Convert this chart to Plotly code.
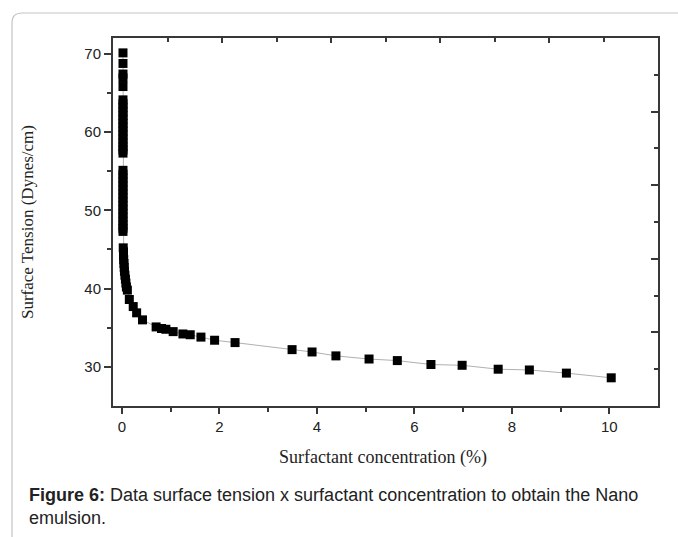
import plotly.graph_objects as go

# ---- data ----
conc = [0.02, 0.02, 0.02, 0.02, 0.02,
        0.02, 0.02, 0.02, 0.02, 0.02, 0.02, 0.02, 0.02, 0.02, 0.02, 0.02, 0.02, 0.02, 0.02, 0.02,
        0.02, 0.02, 0.02, 0.02, 0.02, 0.02, 0.02, 0.02, 0.02, 0.02, 0.02, 0.02, 0.02, 0.02, 0.02, 0.02, 0.02,
        0.025, 0.03, 0.03, 0.035, 0.04, 0.045, 0.05, 0.06, 0.07, 0.08, 0.09, 0.11,
        0.15, 0.23, 0.30, 0.42, 0.70, 0.81, 0.90, 1.05, 1.25, 1.40, 1.62, 1.90, 2.32,
        3.49, 3.90, 4.39, 5.07, 5.65, 6.34, 6.98, 7.72, 8.36, 9.12, 10.04]
tension = [70.1, 68.75, 67.4, 66.9, 65.8,
           64.1, 63.6, 63.1, 62.6, 62.1, 61.6, 61.1, 60.6, 60.1, 59.6, 59.1, 58.6, 58.1, 57.7, 57.3,
           55.1, 54.6, 54.1, 53.6, 53.1, 52.6, 52.1, 51.6, 51.1, 50.6, 50.1, 49.6, 49.1, 48.6, 48.1, 47.7, 47.3,
           45.2, 44.7, 44.2, 43.7, 43.2, 42.7, 42.2, 41.7, 41.2, 40.7, 40.2, 39.8,
           38.6, 37.7, 36.9, 36.0, 35.1, 34.9, 34.8, 34.5, 34.2, 34.1, 33.8, 33.4, 33.1,
           32.2, 31.9, 31.4, 31.0, 30.8, 30.3, 30.2, 29.7, 29.6, 29.2, 28.6]

x_ticks = [0, 2, 4, 6, 8, 10]
y_ticks = [30, 40, 50, 60, 70]

x_title = "Surfactant concentration (%)"
y_title = "Surface Tension (Dynes/cm)"
caption_bold = "Figure 6:"
caption_1 = " Data surface tension x surfactant concentration to obtain the Nano"
caption_2 = "emulsion."

# ---- geometry helpers (pixel -> paper) ----
W, H = 678, 537
L, R, T, B = 113, 658, 38, 406
def px(xp):
    return (xp - L) / (R - L)
def py(yp):
    return (B - yp) / (B - T)

axis_col = "#383838"
tick_font = dict(family="Liberation Sans, Arial, sans-serif", size=15, color="#222")
serif_x = dict(family="Liberation Serif, Times New Roman, serif", size=18, color="#222")
serif_y = dict(family="Liberation Serif, Times New Roman, serif", size=17, color="#222")

fig = go.Figure()
fig.add_trace(go.Scatter(
    x=conc, y=tension, mode="lines+markers",
    line=dict(color="#b0b0b0", width=1),
    marker=dict(symbol="square", size=9, color="black", line=dict(width=0)),
    showlegend=False, hoverinfo="x+y"))
# helper trace to create the mirrored (top/right) tick axes
fig.add_trace(go.Scatter(x=[None], y=[None], xaxis="x2", yaxis="y2",
                         showlegend=False, hoverinfo="skip"))

fig.update_layout(
    width=W, height=H,
    margin=dict(l=L, r=W - R, t=T, b=H - B, autoexpand=False),
    paper_bgcolor="white", plot_bgcolor="white",
    xaxis=dict(range=[-0.185, 11.0], tickvals=x_ticks, ticks="outside", ticklen=6,
               tickwidth=1.5, tickcolor=axis_col,
               minor=dict(tickvals=[1, 3, 5, 7, 9], ticks="outside", ticklen=4,
                          tickwidth=1.5, tickcolor=axis_col),
               showline=True, linecolor=axis_col, linewidth=2, mirror=True,
               showgrid=False, zeroline=False, tickfont=tick_font),
    yaxis=dict(range=[25, 72], tickvals=y_ticks, ticks="outside", ticklen=7,
               tickwidth=1.5, tickcolor=axis_col,
               minor=dict(tickvals=[35, 45, 55, 65], ticks="outside", ticklen=4,
                          tickwidth=1.5, tickcolor=axis_col),
               showline=True, linecolor=axis_col, linewidth=2, mirror=True,
               showgrid=False, zeroline=False, tickfont=tick_font),
    xaxis2=dict(overlaying="x", side="top", range=[0, 10], tickvals=[2, 4, 6, 8],
                ticks="inside", ticklen=5, tickwidth=1.5, tickcolor=axis_col,
                minor=dict(tickvals=[1, 3, 5, 7, 9], ticks="inside", ticklen=4,
                           tickwidth=1.5, tickcolor=axis_col),
                showticklabels=False, showgrid=False, zeroline=False, showline=False),
    yaxis2=dict(overlaying="y", side="right", range=[0, 10], tickvals=[2, 4, 6, 8],
                ticks="inside", ticklen=7, tickwidth=1.5, tickcolor=axis_col,
                minor=dict(tickvals=[1, 3, 5, 7, 9], ticks="inside", ticklen=4,
                           tickwidth=1.5, tickcolor=axis_col),
                showticklabels=False, showgrid=False, zeroline=False, showline=False),
)

# axis titles
fig.add_annotation(text=x_title, xref="paper", yref="paper", x=px(383), y=py(457),
                   xanchor="center", yanchor="middle", showarrow=False, font=serif_x)
fig.add_annotation(text=y_title, xref="paper", yref="paper", x=px(27), y=py(222),
                   xanchor="center", yanchor="middle", textangle=-90, showarrow=False, font=serif_y)

# caption
cap_font = dict(family="Liberation Sans, Arial, sans-serif", size=18, color="#222")
fig.add_annotation(text="<b>" + caption_bold + "</b>" + caption_1, xref="paper", yref="paper",
                   x=px(27), y=py(494.5), xanchor="left", yanchor="middle",
                   showarrow=False, font=cap_font)
fig.add_annotation(text=caption_2, xref="paper", yref="paper",
                   x=px(27), y=py(518), xanchor="left", yanchor="middle",
                   showarrow=False, font=cap_font)

# outer rounded frame of the figure panel
r = 10
path = (f"M {px(12)},{py(560)} L {px(12)},{py(13 + r)} "
        f"Q {px(12)},{py(13)} {px(12 + r)},{py(13)} L {px(700)},{py(13)}")
fig.add_shape(type="path", path=path, xref="paper", yref="paper",
              line=dict(color="#c4c4c4", width=1.2), layer="below")

fig.write_html("out.html", config={"displayModeBar": False},
               post_script="document.body.style.margin='0px';document.body.style.overflow='hidden';")
